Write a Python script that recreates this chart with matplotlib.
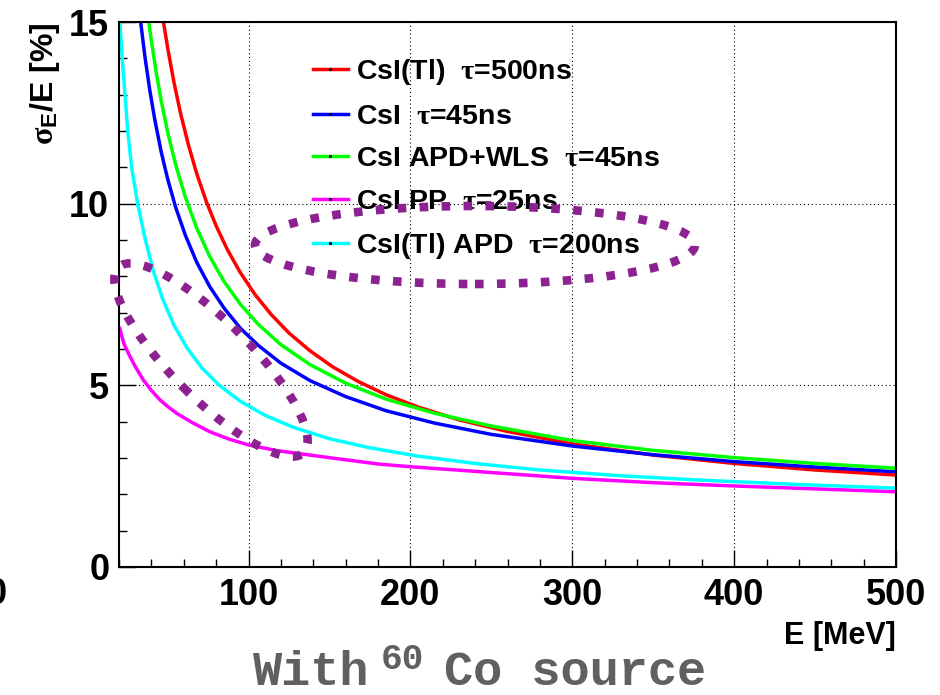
import matplotlib
matplotlib.use('Agg')
import matplotlib.pyplot as plt
from matplotlib.lines import Line2D
from matplotlib.patches import Ellipse
from matplotlib.ticker import MultipleLocator

plt.rcParams['font.family'] = 'Liberation Sans'
plt.rcParams['font.weight'] = 'bold'
plt.rcParams['axes.labelweight'] = 'bold'
plt.rcParams['mathtext.fontset'] = 'custom'
plt.rcParams['mathtext.rm'] = 'Liberation Serif'
plt.rcParams['mathtext.it'] = 'Liberation Serif:italic'
plt.rcParams['mathtext.bf'] = 'Liberation Sans:bold'

# resolution sigma_E/E [%] vs energy [MeV]
e_tl500 = [47.3, 50, 54, 58, 63, 68, 74, 80, 87, 95, 104, 114, 125, 138, 152, 168, 185, 205,
           230, 260, 300, 350, 400, 450, 500]
s_tl500 = [15.05, 14.30, 13.33, 12.49, 11.60, 10.83, 10.05, 9.39, 8.73, 8.10, 7.50, 6.95, 6.44, 5.95,
           5.51, 5.10, 4.74, 4.40, 4.05, 3.73, 3.39, 3.08, 2.85, 2.67, 2.53]

e_pure45 = [33, 36, 39, 42, 46, 50, 55, 61, 68, 76, 85, 95, 106, 120, 138, 160, 185, 215,
            250, 300, 350, 400, 450, 500]
s_pure45 = [15.14, 14.05, 13.13, 12.34, 11.44, 10.69, 9.90, 9.13, 8.39, 7.72, 7.12, 6.57, 6.10, 5.61,
            5.13, 4.69, 4.30, 3.96, 3.65, 3.33, 3.09, 2.90, 2.75, 2.62]

e_wls45 = [38, 40, 43, 46, 50, 55, 61, 68, 76, 85, 95, 106, 120, 138, 160, 185, 215, 250,
           300, 350, 400, 450, 500]
s_wls45 = [15.13, 14.48, 13.61, 12.85, 11.98, 11.07, 10.18, 9.33, 8.55, 7.85, 7.23, 6.68, 6.12, 5.57,
           5.06, 4.62, 4.23, 3.88, 3.48, 3.21, 3.01, 2.85, 2.72]

e_pp25 = [20.2, 23, 26.8, 30, 35, 40, 45.3, 50, 55.6, 65, 76.2, 88, 100, 118, 138, 160, 181,
          200, 225, 250, 275, 300, 350, 400, 450, 500]
s_pp25 = [6.61, 6.15, 5.79, 5.52, 5.15, 4.86, 4.60, 4.42, 4.23, 3.98, 3.72, 3.52, 3.36, 3.20, 3.08,
          2.95, 2.83, 2.76, 2.68, 2.60, 2.52, 2.44, 2.32, 2.23, 2.15, 2.07]

e_apd200 = [20.5, 22, 23.7, 25.4, 27.8, 31.5, 36, 41, 47, 54, 62, 71, 82, 95, 110, 128, 150, 175,
            205, 240, 280, 330, 380, 440, 500]
s_apd200 = [15, 14, 13, 12, 11, 10, 9.06, 8.18, 7.37, 6.65, 6.03, 5.49, 5.00, 4.56, 4.18, 3.84,
            3.53, 3.28, 3.05, 2.85, 2.67, 2.51, 2.39, 2.27, 2.17]

labels = [r'CsI(Tl)  $\mathrm{\tau}$=500ns',
          r'CsI  $\mathrm{\tau}$=45ns',
          r'CsI APD+WLS  $\mathrm{\tau}$=45ns',
          r'CsI PP  $\mathrm{\tau}$=25ns',
          r'CsI(Tl) APD  $\mathrm{\tau}$=200ns']
colors = ['#ff0000', '#0000ff', '#00ff00', '#ff00ff', '#00ffff']
curves = [(e_tl500, s_tl500), (e_pure45, s_pure45), (e_wls45, s_wls45),
          (e_pp25, s_pp25), (e_apd200, s_apd200)]

fig = plt.figure(figsize=(9.4, 6.95), dpi=100)
ax = fig.add_axes([0.1266, 0.1842, 0.8266, 0.7841])

for (e, s), c in zip(curves, colors):
    ax.plot(e, s, color=c, lw=2.5, solid_capstyle='butt', solid_joinstyle='round')

ax.set_xlim(20, 500)
ax.set_ylim(0, 15)
ax.set_xticks([100, 200, 300, 400, 500])
ax.set_yticks([0, 5, 10, 15])
ax.xaxis.set_minor_locator(MultipleLocator(20))
ax.yaxis.set_minor_locator(MultipleLocator(1))
ax.tick_params(which='both', direction='in', top=False, right=False, width=1, labelsize=26)
ax.tick_params(which='major', length=12)
ax.tick_params(which='minor', length=6)
ax.tick_params(axis='x', pad=8)
ax.tick_params(axis='y', pad=7)
ax.grid(True, which='major', color='black', linestyle=(0, (1, 2.5)), linewidth=0.8)
for sp in ax.spines.values():
    sp.set_linewidth(1.5)

ax.set_ylabel(r'$\mathrm{\sigma}_{\mathbf{E}}$/E [%]', loc='top', fontsize=23)
ax.yaxis.set_label_coords(-0.073, 1.0)
ax.set_xlabel('E [MeV]', loc='right', fontsize=22)
ax.xaxis.set_label_coords(1.0, -0.1)

handles = [Line2D([], [], color=c, lw=2.5, marker='s', markersize=1.2,
                  markerfacecolor='k', markeredgecolor='k') for c in colors]
leg = ax.legend(handles, labels, loc='upper left', bbox_to_anchor=(313 / 940, (695 - 57) / 695),
                bbox_transform=fig.transFigure, frameon=False, fontsize=20.5, numpoints=1,
                handlelength=1.22, handletextpad=0.3, labelspacing=0.58, borderpad=0, borderaxespad=0)

# dotted purple rings
purple = '#8c2291'
ring_kw = dict(fill=False, edgecolor=purple, linewidth=6.2, linestyle=(0, (1, 1.55)),
               transform=fig.dpi_scale_trans, zorder=10, clip_on=False)
fig.add_artist(Ellipse((4.75, 4.50), 4.40, 0.78, angle=0, **ring_kw))
fig.add_artist(Ellipse((2.11, 3.35), 2.62, 0.78, angle=-45, **ring_kw))

# footer caption
grey = '#606060'
mono = dict(family='Liberation Mono', weight='bold', color=grey, va='baseline')
fig.text(253 / 940, 10 / 695, 'With', fontsize=35, **mono)
fig.text(381 / 940, 26 / 695, '60', fontsize=26, **mono)
fig.text(444 / 940, 10 / 695, 'Co source', fontsize=35, **mono)

fig.text(7 / 940, (695 - 577) / 695, '0', ha='right', va='top', fontsize=26)

fig.savefig('out.png', dpi=100)
